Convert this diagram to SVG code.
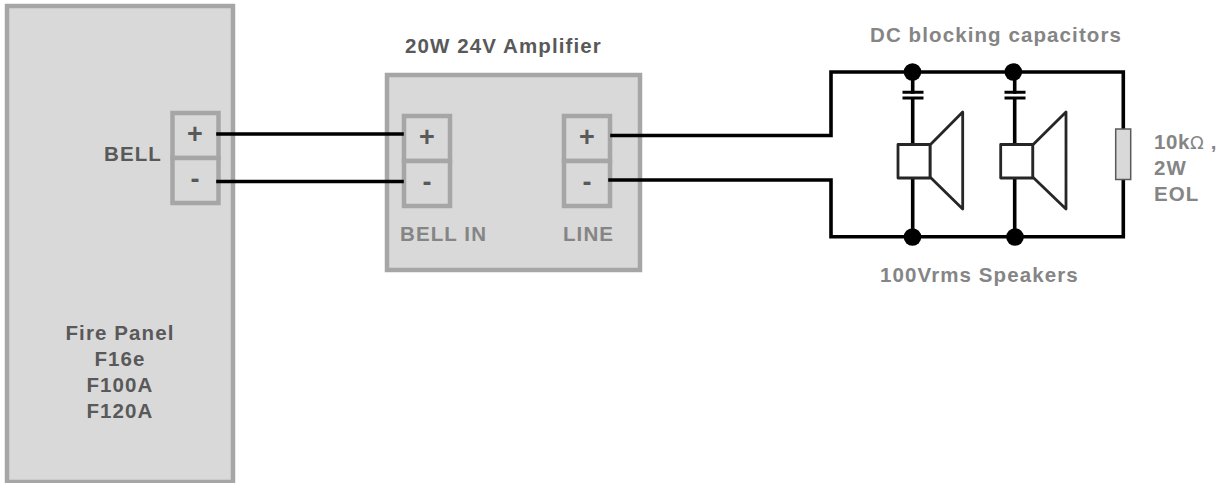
<svg xmlns="http://www.w3.org/2000/svg" width="1232" height="483" viewBox="0 0 1232 483">
<style>
.box{fill:#d9d9d9;stroke:#a6a6a6;stroke-width:4.5}
.t{font-family:"Liberation Sans",Arial,sans-serif;font-weight:bold;font-size:20.5px;letter-spacing:1.1px}
.d{fill:#595959}.g{fill:#858585}
.w{fill:none;stroke:#000;stroke-width:3.6;stroke-linecap:square}
.s{fill:#fff;stroke:#262626;stroke-width:2.8;stroke-linejoin:round}
.sign{font-size:27px;text-anchor:middle;letter-spacing:0}
</style>
<rect width="1232" height="483" fill="#fff"/>
<g id="panel">
<rect class="box" x="7" y="6" width="226" height="476"/>
<text class="t d" x="104" y="161">BELL</text>
<text class="t d" text-anchor="middle" x="120" y="340">Fire Panel</text>
<text class="t d" text-anchor="middle" x="120" y="366">F16e</text>
<text class="t d" text-anchor="middle" x="120" y="392">F100A</text>
<text class="t d" text-anchor="middle" x="120" y="418">F120A</text>
</g>
<g id="panel-terminals">
<rect class="box" x="172.500" y="113" width="46" height="45"/>
<rect class="box" x="172.500" y="158" width="46" height="45"/>
<text class="t d sign" x="195" y="143">+</text>
<text class="t d sign" x="195" y="188">-</text>
</g>
<g id="amplifier">
<rect class="box" x="387" y="75" width="253" height="195"/>
<text class="t d" x="405" y="53">20W 24V Amplifier</text>
<text class="t g" x="400" y="241">BELL IN</text>
<text class="t g" x="563" y="241">LINE</text>
</g>
<g id="bell-in">
<rect class="box" x="404" y="116" width="46" height="45"/>
<rect class="box" x="404" y="161" width="46" height="45"/>
<text class="t d sign" x="427" y="146">+</text>
<text class="t d sign" x="427" y="191">-</text>
</g>
<g id="line-out">
<rect class="box" x="564" y="116" width="46" height="45"/>
<rect class="box" x="564" y="161" width="46" height="45"/>
<text class="t d sign" x="587" y="146">+</text>
<text class="t d sign" x="587" y="191">-</text>
</g>
<g id="connectors">
<path class="w" d="M218 134H402M218 181.500H402"/>
<path class="w" d="M612 135.500H831V72H1123.300V129M610 180H831V236.700H1123.300V180"/>
<path class="w" d="M912.700 72V92M912.700 100V142M912.700 178V236M1014.700 72V92M1014.700 100V142M1014.700 178V236"/>
<path class="w" d="M904 92.300H922M904 98H922M1006 92.300H1024M1006 98H1024" style="stroke-width:3"/>
<circle cx="912.500" cy="72" r="8.800"/><circle cx="1013.300" cy="72" r="8.800"/>
<circle cx="912.500" cy="237" r="8.800"/><circle cx="1015" cy="237" r="8.800"/>
</g>
<g id="speaker-1">
<path class="s" d="M930 145L962.700 112V209L930 177Z"/>
<rect class="s" x="898" y="144.500" width="32" height="33.500"/>
</g>
<g id="speaker-2">
<path class="s" d="M1032.700 145L1066 112V209L1032.700 177Z"/>
<rect class="s" x="1000.700" y="144.500" width="32" height="33.500"/>
</g>
<g id="eol-resistor">
<rect x="1115.700" y="129" width="15" height="50.500" fill="#d9d9d9" stroke="#595959" stroke-width="1.500"/>
<text class="t g" x="1154" y="149" style="letter-spacing:.6px">10k<tspan font-family="'DejaVu Sans',sans-serif" font-weight="normal" font-size="18">Ω</tspan> ,</text>
<text class="t g" x="1154" y="175">2W</text>
<text class="t g" x="1154" y="201">EOL</text>
</g>
<g id="labels">
<text class="t g" x="870" y="42">DC blocking capacitors</text>
<text class="t g" x="880" y="282">100Vrms Speakers</text>
</g>
</svg>
